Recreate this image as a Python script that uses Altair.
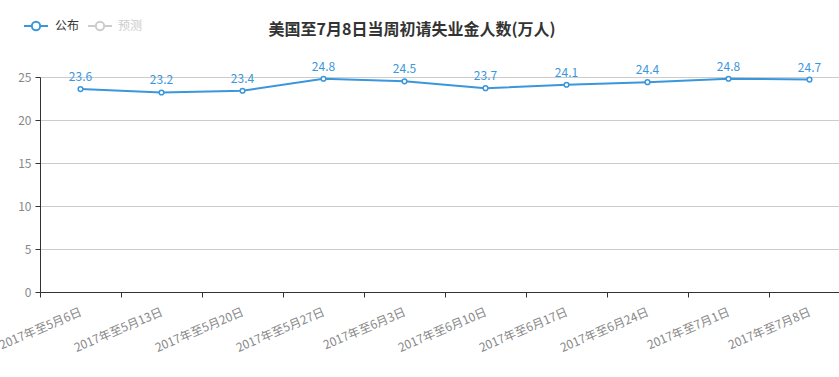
import altair as alt
import pandas as pd

categories = ["2017年至5月6日", "2017年至5月13日", "2017年至5月20日", "2017年至5月27日",
              "2017年至6月3日", "2017年至6月10日", "2017年至6月17日", "2017年至6月24日",
              "2017年至7月1日", "2017年至7月8日"]
values = [23.6, 23.2, 23.4, 24.8, 24.5, 23.7, 24.1, 24.4, 24.8, 24.7]
title_text = "美国至7月8日当周初请失业金人数(万人)"
legend_names = ["公布", "预测"]

BLUE = "#3a97dc"
FONT = "Noto Sans CJK SC"

df = pd.DataFrame({"date": categories, "value": values})

xs = alt.X("date:N", sort=categories,
           scale=alt.Scale(type="band", range=[0, 810], paddingInner=0, paddingOuter=0),
           axis=alt.Axis(title=None, tickBand="extent", labelAngle=-23,
                         labelAlign="right", labelBaseline="middle", labelPadding=14,
                         labelColor="#888", labelFontSize=12, labelFont=FONT,
                         domainColor="#333", tickColor="#333", tickSize=5, grid=False,
                         labelOverlap=False, labelBound=False))
ys = alt.Y("value:Q", scale=alt.Scale(domain=[0, 25], nice=False),
           axis=alt.Axis(title=None, values=[0, 5, 10, 15, 20, 25], labelColor="#888",
                         labelFontSize=12, labelFont=FONT, labelPadding=4,
                         domainColor="#333", tickColor="#333", tickSize=5,
                         gridColor="#cccccc", grid=True))

base = alt.Chart(df)
line = base.mark_line(color=BLUE, strokeWidth=2).encode(x=xs, y=ys)
pts = base.mark_point(shape="circle", filled=True, fill="white", stroke=BLUE,
                      strokeWidth=1.5, size=22, opacity=1).encode(x=xs, y=ys)
labels = base.mark_text(color=BLUE, fontSize=12, font=FONT, dy=-12).encode(
    x=xs, y=ys, text=alt.Text("value:Q", format=".1f"))

title = alt.Chart(pd.DataFrame({"t": [title_text]})).mark_text(
    fontSize=16, fontWeight="bold", font=FONT, color="#333", align="center",
    baseline="middle").encode(x=alt.value(372), y=alt.value(-47), text="t:N")

leg = pd.DataFrame({"name": legend_names})
leg_line1 = alt.Chart(leg.iloc[[0]]).mark_rule(color=BLUE, strokeWidth=2).encode(
    x=alt.value(-16), x2=alt.value(8), y=alt.value(-51))
leg_line2 = alt.Chart(leg.iloc[[1]]).mark_rule(color="#cccccc", strokeWidth=2).encode(
    x=alt.value(48), x2=alt.value(72), y=alt.value(-51))
leg_c1 = alt.Chart(leg.iloc[[0]]).mark_point(shape="circle", filled=True, fill="white",
                                             stroke=BLUE, strokeWidth=2, size=70, opacity=1).encode(
    x=alt.value(-4), y=alt.value(-51))
leg_c2 = alt.Chart(leg.iloc[[1]]).mark_point(shape="circle", filled=True, fill="white",
                                             stroke="#cccccc", strokeWidth=2, size=70, opacity=1).encode(
    x=alt.value(60), y=alt.value(-51))
leg_t1 = alt.Chart(leg.iloc[[0]]).mark_text(fontSize=12, font=FONT, color="#333", align="left",
                                            baseline="middle").encode(
    x=alt.value(15), y=alt.value(-51), text="name:N")
leg_t2 = alt.Chart(leg.iloc[[1]]).mark_text(fontSize=12, font=FONT, color="#cccccc", align="left",
                                            baseline="middle").encode(
    x=alt.value(78), y=alt.value(-51), text="name:N")

chart = alt.layer(line, pts, labels, title, leg_line1, leg_line2, leg_c1, leg_c2,
                  leg_t1, leg_t2).properties(
    width=799, height=215,
    autosize=alt.AutoSizeParams(type="none"),
    padding={"left": 40, "top": 77, "right": 0, "bottom": 85},
).configure_view(stroke=None)

chart.save("out.html", embed_options={"renderer": "svg", "actions": False})
